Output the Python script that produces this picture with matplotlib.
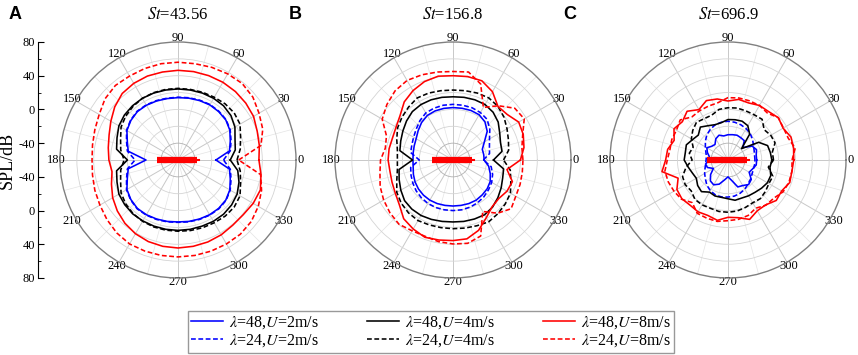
import numpy as np
import matplotlib.pyplot as plt

plt.rcParams['font.family'] = ['Liberation Serif', 'DejaVu Serif']
plt.rcParams['mathtext.fontset'] = 'stix'

# directions, deg (0 .. 350 step 10)
angles = np.arange(0, 360, 10)

# SPL (dB), St = 43.56
A_blue_48 = [-15, 2, 6, 11, 14, 15, 15.5, 15, 14.5, 14, 14, 14.5, 15, 15, 13, 10, 4, 0,
             -22, 0, 4, 10, 13, 15, 15, 14.5, 14, 13.5, 14, 14.5, 15, 15, 14, 11, 6, 2]
A_blue_24 = [-6, 3, 7, 11.5, 14.5, 15.5, 16, 15.5, 15, 14.5, 14.5, 15, 15.5, 15.5, 13.5, 10.5, 5, 1,
             -9, 1, 5, 10.5, 13.5, 15.5, 15.5, 15, 14.5, 14, 14.5, 15, 15.5, 15.5, 14.5, 11.5, 7, 3]
A_black_48 = [2, 9, 12, 18, 22, 24, 24.5, 24.5, 24.3, 24.3, 24.3, 24.5, 24.5, 24, 23, 21, 17, 14,
              0, 14, 17, 21, 22.5, 23.5, 23.5, 23.5, 23.5, 23.5, 23.5, 23.5, 24, 24, 23, 21, 17, 12]
A_black_24 = [10, 15, 19, 25, 27, 27, 26, 25.5, 25, 25, 25, 25, 24.5, 23, 21, 18, 12.5, 9,
              4, 9, 12.5, 18, 21, 23, 24, 24.5, 24.5, 24.5, 25, 25.5, 26, 27, 27, 25, 19, 15]
A_red_48 = [36, 38, 40, 43.5, 45, 46, 46.5, 46.5, 46.5, 46.4, 46, 46, 45, 43, 38, 32, 27, 24,
            22, 19.5, 24, 29.5, 34, 38, 41, 43, 44, 44.4, 44, 43.5, 42.5, 41, 41, 43, 44, 40]
A_red_24 = [12, 40, 47, 51, 56, 58.5, 58, 57, 56, 56, 56, 55.5, 55, 55.5, 53, 48, 45, 43,
            42, 43, 45, 47, 50, 53, 55, 55, 55, 55, 55, 55, 55, 55, 53.5, 50, 45.5, 39.5]

# St = 156.8
B_blue_48 = [-23, -23, -23, -17, -7, -1, 2, 2.5, 2.3, 2.2, 2.2, 2, 1, -2, -6, -9.5, -11, -12,
             -12.5, -12, -10, -8, -6.5, -5.5, -5, -5, -5.3, -5.4, -5.3, -5, -5, -6, -7, -9, -13, -17]
B_blue_24 = [-24, -16, -14, -10, -3, 3, 5, 6, 6, 6, 6, 5.5, 4.5, 1, -3, -6, -8, -9,
             -20, -9, -7, -5, -3, -1.5, -0.5, 0, 0, 0, 0, -0.5, -1.5, -3, -5, -7, -10, -14]
B_black_48 = [-12, -1, 0, 4, 10, 14, 16, 16, 15.5, 15, 15.5, 16, 16, 15, 12, 8.7, 6, 4,
              -12, 5, 8, 11.5, 15, 16, 16, 15, 14, 13.5, 14, 14.5, 15, 13, 9.5, 6, 2.7, 1]
B_black_24 = [0, 7, 10, 14, 19, 23, 25, 24.5, 23.5, 23, 23.5, 24.5, 25, 22, 19, 16, 11, 7,
              6, 7, 11, 17, 20, 22, 23, 22, 21.5, 21.5, 22, 23, 24.7, 23, 21, 18.7, 13, 9]
B_red_48 = [20, 25.5, 28.7, 30, 24, 23, 33.6, 40, 40.5, 40, 41, 39, 35, 30, 22, 18, 16.4, 17,
            17, 16, 17, 19, 23, 31, 34.5, 37.6, 36.4, 35.6, 35, 28.8, 19, 12.3, 11, 14, 15, 5]
B_red_24 = [23, 23, 28, 37.6, 35.6, 24, 12, 36, 46, 45, 46, 47.6, 49, 47, 42.4, 37, 24, 21.5,
            26, 28, 32, 35, 37.6, 39.6, 37, 36.4, 38.4, 39.6, 40.4, 36, 10.5, 22.4, 30, 26, 24.7, 23.5]

# St = 696.9
C_blue_48 = [-26, -26, -24, -27, -37, -30, -29.5, -28.7, -29.5, -30, -31, -28.7, -31, -36, -34.7, -31, -34, -37.5,
             -38, -33, -34, -40, -33, -27.5, -26, -29.5, -36, -40, -35.5, -26, -25, -22, -24, -31, -29, -26]
C_blue_24 = [-28, -28, -27, -25, -22, -19, -17, -15.5, -14.5, -14, -14.5, -15.5, -18, -21, -25, -29, -32, -34,
             -34, -33, -31, -28, -25, -21, -18, -16, -15.5, -16, -16.5, -18, -20, -23, -25, -27, -28, -28]
C_black_48 = [-8, -9, -10, -18, -39, -20, -13, -11, -11.5, -12, -15, -15.4, -13, -9, -14, -11.5, -7.4, -8.6,
              -8, -12, -15, -16.6, -13, -11, -16, -14.6, -15, -14, -11.5, -12, -11, -10, -8, -6, -6, -9.4]
C_black_24 = [-6, -6.6, -0.6, -1.4, -4, 3, 2, 2, 2.6, 2, 1, -3.4, -3.4, -1.7, -5.4, -9.8, -16, -13.4,
              -17.4, -9.4, -2.6, -1.4, -3, 1, 1.5, 1, 2, 2, 1.5, 0, -1.4, -0.2, -2, -4, -3.4, -11.4]
C_red_48 = [18, 19, 19.5, 15.5, 18, 15, 14.7, 12, 13, 10, 13.5, 15, 9, 15.5, 10.7, 14, 8, 12.7,
            14, 19.5, 3, 10, 11.5, 10, 11, 10, 12.7, 8, 9.5, 15, 9.5, 9.5, 14.7, 13.5, 18, 17]
C_red_24 = [16, 21, 16, 16, 18, 12.7, 14.7, 14.7, 14.7, 14, 9, 8, 7.5, 6.7, 14, 10.6, 11, 10,
            12, 16, 15.5, 14, 12.3, 6, 13, 13.5, 14, 12, 11.5, 10, 6, 10, 10.7, 15.5, 17, 17]

titles = ['43.56', '156.8', '696.9']
letters = ['A', 'B', 'C']
panel_data = [
    [A_blue_48, A_blue_24, A_black_48, A_black_24, A_red_48, A_red_24],
    [B_blue_48, B_blue_24, B_black_48, B_black_24, B_red_48, B_red_24],
    [C_blue_48, C_blue_24, C_black_48, C_black_24, C_red_48, C_red_24],
]
labels = [r'$\lambda$=48,$U$=2m/s', r'$\lambda$=24,$U$=2m/s',
          r'$\lambda$=48,$U$=4m/s', r'$\lambda$=24,$U$=4m/s',
          r'$\lambda$=48,$U$=8m/s', r'$\lambda$=24,$U$=8m/s']
colors = ['#0000ff', '#0000ff', 'black', 'black', '#ff0000', '#ff0000']
styles = ['-', (0, (3, 1.6)), '-', (0, (3, 1.6)), '-', (0, (3, 1.6))]

r_min, r_max = -60, 80

fig = plt.figure(figsize=(8.58, 3.55), dpi=100)
lefts = [60 / 858, 335 / 858, 610 / 858]
letter_x = [0.010, 0.336, 0.657]
bot, w, h = 77 / 355, 236 / 858, 236 / 355

th = np.deg2rad(np.append(angles, angles[0]))
for i in range(3):
    ax = fig.add_axes([lefts[i], bot, w, h], projection='polar')
    ax.set_ylim(r_min, r_max)
    ax.set_yticks([-40, -20, 0, 20, 40, 60])
    ax.set_yticklabels([])
    ax.set_xticks(np.deg2rad(np.arange(0, 360, 30)))
    ax.set_xticklabels([str(a) for a in range(0, 360, 30)], fontsize=9)
    ax.set_xticks(np.deg2rad(np.arange(15, 360, 30)), minor=True)
    ax.tick_params(axis='x', which='major', pad=-4, length=0)
    ax.tick_params(axis='x', which='minor', direction='in', length=4, color='#808080')
    ax.xaxis.grid(True, which='major', color='#c8c8c8', lw=0.7)
    ax.xaxis.grid(True, which='minor', color='#e4e4e4', lw=0.5)
    ax.yaxis.grid(True, color='#d4d4d4', lw=0.6)
    ax.yaxis.get_gridlines()[0].set_color('#b0b0b0')
    ax.spines['polar'].set_color('#808080')
    ax.spines['polar'].set_linewidth(1.0)

    for vals, c, ls, lab in zip(panel_data[i], colors, styles, labels):
        ax.plot(th, np.append(vals, vals[0]), color=c, linestyle=ls, lw=1.15, label=lab)

    # the body at the centre
    ax.plot(np.deg2rad([180, 180, 0, 0]), [-35, -60, -60, -38], color='#ff0000',
            lw=4.5, solid_capstyle='butt')
    ax.plot(np.deg2rad([0, 0]), [-40, -35], color='#ff0000', lw=1.5)

    fig.text(lefts[i] + w / 2, 0.958, r'$St$=' + titles[i], ha='center', va='center', fontsize=12)
    fig.text(letter_x[i], 0.958, letters[i], fontsize=13, fontweight='bold',
             family='Liberation Sans', va='center')
    if i == 0:
        handles, labs = ax.get_legend_handles_labels()

# SPL scale on the left
sax = fig.add_axes([38 / 858, bot, 0.001, h])
sax.set_ylim(-(r_max - r_min), r_max - r_min)
for s in ['right', 'top', 'bottom']:
    sax.spines[s].set_visible(False)
sax.set_xticks([])
sax.set_yticks([-140, -100, -60, -20, 20, 60, 100, 140])
sax.set_yticklabels(['80', '40', '0', '-40', '-40', '0', '40', '80'], fontsize=9)
sax.set_yticks([-120, -80, -40, 40, 80, 120], minor=True)
sax.tick_params(axis='y', which='major', direction='in', length=4, pad=2)
sax.tick_params(axis='y', which='minor', direction='in', length=2.5)
sax.set_ylabel('SPL/dB', fontsize=13, labelpad=2)
sax.patch.set_visible(False)

leg = fig.legend(handles, labs, loc='center', bbox_to_anchor=(0.502, 0.065), ncol=3,
                 fontsize=11.5, frameon=True, fancybox=False, edgecolor='#808080',
                 handlelength=2.0, columnspacing=3.0, handletextpad=0.4,
                 borderpad=0.2, labelspacing=0.1, borderaxespad=0)
leg.get_frame().set_linewidth(1.0)

fig.savefig('out.png', dpi=100)
